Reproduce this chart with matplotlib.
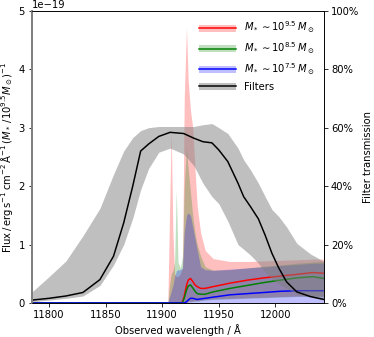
import matplotlib
matplotlib.use("Agg")
import matplotlib.pyplot as plt
from matplotlib.patches import Patch
from matplotlib.lines import Line2D
from matplotlib.ticker import PercentFormatter

# longueurs d'onde des spectres (Angstrom)
lamS = [11785, 11905, 11906.5, 11908, 11909.5, 11911, 11912.5, 11914, 11916, 11918,
        11919.5, 11921.5, 11923, 11925, 11927, 11929, 11931, 11934, 11938, 11945,
        11960, 11975, 11990, 12004, 12019, 12033, 12043]

# flux en unites de 1e-19
rougeHaut = [0, 0, 1.5, 2.95, 1.2, 0.5, 0.45, 0.45, 0.5, 0.6, 3.5, 4.72, 3.8, 3.3, 3.0,
             2.3, 1.65, 1.2, 0.9, 0.76, 0.71, 0.71, 0.72, 0.73, 0.74, 0.75, 0.75]
rougeBas = [0] * 12 + [0.02, 0.03, 0.03, 0.04, 0.04, 0.05, 0.06, 0.07, 0.08, 0.09, 0.1,
                       0.11, 0.12, 0.12, 0.12]
rouge = [0] * 9 + [0.02, 0.12, 0.3, 0.39, 0.42, 0.37, 0.31, 0.28, 0.25, 0.25, 0.28, 0.34,
                   0.39, 0.43, 0.46, 0.49, 0.52, 0.51]

vertHaut = [0, 0, 0.3, 0.5, 0.55, 0.7, 1.94, 0.7, 0.6, 0.8, 2.0, 2.65, 2.3, 1.9, 1.5,
            1.2, 1.0, 0.8, 0.62, 0.56, 0.57, 0.6, 0.63, 0.65, 0.68, 0.7, 0.71]
vertBas = [0] * 12 + [0.02, 0.02, 0.03, 0.03, 0.03, 0.04, 0.05, 0.06, 0.07, 0.08, 0.09,
                      0.1, 0.11, 0.11, 0.11]
vert = [0] * 9 + [0.01, 0.08, 0.22, 0.29, 0.31, 0.26, 0.2, 0.16, 0.15, 0.15, 0.19, 0.25,
                  0.3, 0.35, 0.39, 0.43, 0.45, 0.42]

bleuHaut = [0, 0, 0.1, 0.2, 0.3, 0.45, 0.55, 0.57, 0.57, 0.6, 1.2, 1.5, 1.54, 1.5, 1.3,
            1.1, 0.9, 0.62, 0.57, 0.56, 0.58, 0.6, 0.62, 0.64, 0.66, 0.68, 0.68]
bleuBas = [0] * 27
bleu = [0] * 11 + [0.02, 0.05, 0.08, 0.08, 0.07, 0.06, 0.07, 0.08, 0.1, 0.14, 0.16, 0.18,
                   0.2, 0.21, 0.21, 0.21]

# transmission des filtres
lamF = [11785, 11800, 11815, 11830, 11845, 11857, 11866, 11874, 11881, 11888, 11897,
        11907, 11919, 11928, 11936, 11944, 11950, 11958, 11967, 11972, 11978, 11985,
        11991, 11997, 12003, 12010, 12019, 12031, 12043]
filtre = [0.010, 0.016, 0.024, 0.036, 0.08, 0.16, 0.274, 0.40, 0.52, 0.544, 0.57, 0.584,
          0.58, 0.564, 0.552, 0.548, 0.524, 0.484, 0.41, 0.364, 0.33, 0.288, 0.232, 0.17,
          0.12, 0.072, 0.038, 0.022, 0.012]
filtreHaut = [0.038, 0.09, 0.144, 0.23, 0.324, 0.44, 0.52, 0.566, 0.59, 0.60, 0.604, 0.604,
              0.604, 0.604, 0.61, 0.614, 0.60, 0.58, 0.53, 0.49, 0.456, 0.41, 0.364, 0.32,
              0.296, 0.26, 0.204, 0.168, 0.142]
filtreBas = [0.004, 0.01, 0.016, 0.024, 0.06, 0.13, 0.20, 0.29, 0.388, 0.46, 0.516, 0.53,
             0.51, 0.47, 0.41, 0.364, 0.34, 0.28, 0.2, 0.184, 0.164, 0.136, 0.106, 0.084,
             0.066, 0.05, 0.03, 0.02, 0.01]

labels = [r'$M_* \sim 10^{9.5}\,M_\odot$', r'$M_* \sim 10^{8.5}\,M_\odot$',
          r'$M_* \sim 10^{7.5}\,M_\odot$', 'Filters']

echelle = 1e-19

fig = plt.figure(figsize=(374 / 72, 337 / 72), dpi=72)
ax = fig.add_axes([0.0856, 0.1009, 0.7807, 0.8671])

series = [(rougeBas, rougeHaut, rouge, 'red'),
          (vertBas, vertHaut, vert, 'green'),
          (bleuBas, bleuHaut, bleu, 'blue')]
poignees = []
for bas, haut, ligne, coul in series:
    ax.fill_between(lamS, [v * echelle for v in bas], [v * echelle for v in haut],
                    color=coul, alpha=0.25, lw=0)
for bas, haut, ligne, coul in series:
    ax.plot(lamS, [v * echelle for v in ligne], color=coul, lw=1.5)
    poignees.append((Patch(color=coul, alpha=0.25, lw=0), Line2D([], [], color=coul, lw=1.5)))

ax.set_xlim(11785, 12043)
ax.set_ylim(0, 5e-19)
ax.set_xticks([11800, 11850, 11900, 11950, 12000])
ax.set_xlabel('Observed wavelength / Å')
ax.set_ylabel(r'Flux$\,/\,\mathrm{erg\,s^{-1}\,cm^{-2}\,}$Å$^{-1}\,(M_*\,/10^{9.5}M_\odot)^{-1}$')
ax.spines['left'].set_color('gray')
ax.spines['left'].set_linewidth(2)

# axe de droite : filtres
ax2 = ax.twinx()
ax2.fill_between(lamF, filtreBas, filtreHaut, color='gray', alpha=0.5, lw=0)
ax2.plot(lamF, filtre, 'k-', lw=1.5)
ax2.set_ylim(0, 1)
ax2.set_yticks([0, 0.2, 0.4, 0.6, 0.8, 1.0])
ax2.yaxis.set_major_formatter(PercentFormatter(1.0, decimals=0))
ax2.set_ylabel('Filter transmission')
ax2.spines['left'].set_color('gray')
ax2.spines['left'].set_linewidth(2)
poignees.append((Patch(color='gray', alpha=0.5, lw=0), Line2D([], [], color='k', lw=1.5)))

ax2.legend(poignees, labels, loc='upper right', frameon=False, handlelength=3.7)

fig.savefig('out.png', dpi=72)
